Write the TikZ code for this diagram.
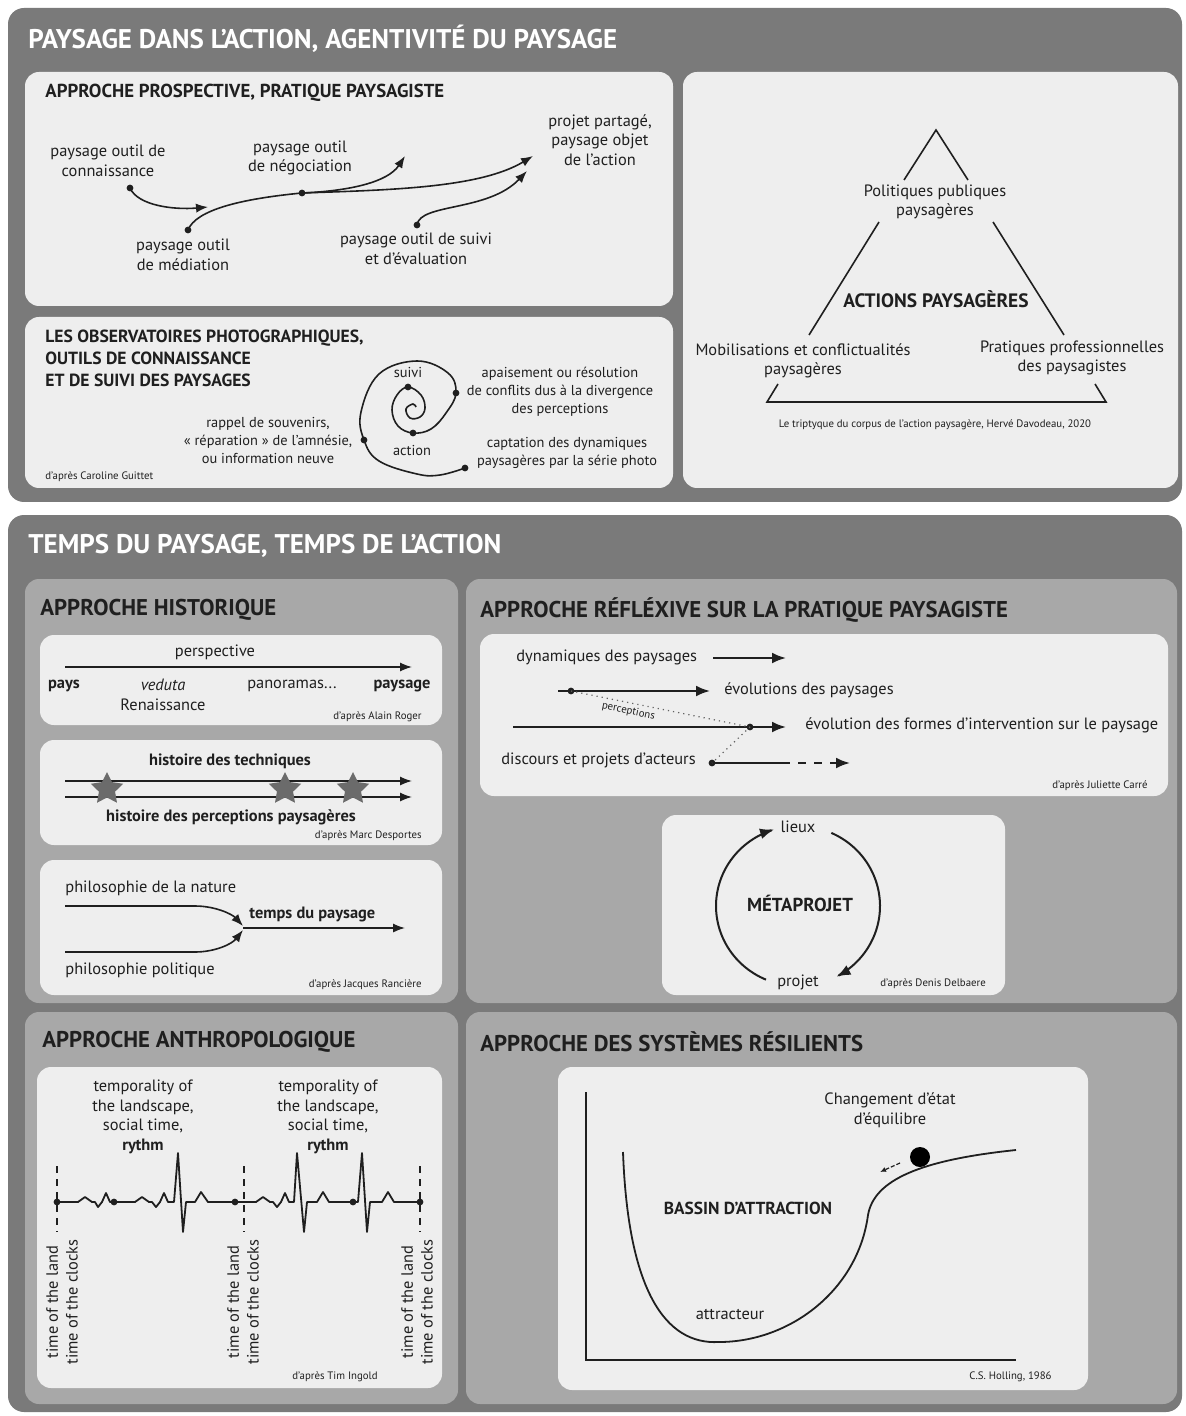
\documentclass[tikz,border=0pt]{standalone}
\usepackage{fontspec}
\setmainfont{PT Sans}
\usetikzlibrary{arrows.meta, positioning, shapes.geometric, calc}

\definecolor{bandgray}{gray}{0.48}
\definecolor{boxgray}{gray}{0.66}
\definecolor{papergray}{gray}{0.935}
\definecolor{ink}{gray}{0.12}
\definecolor{stargray}{gray}{0.42}

\newcommand{\lblfont}{\fontsize{8.2}{9.8}\selectfont}

\begin{document}
\begin{tikzpicture}[
    x=0.5pt, y=-0.5pt,
    band/.style={fill=bandgray, rounded corners=8pt},
    subband/.style={fill=boxgray, rounded corners=7pt},
    card/.style={fill=papergray, rounded corners=7pt},
    bandtitle/.style={text=white, font=\fontsize{13.5}{15}\selectfont\bfseries, anchor=west, inner sep=0pt},
    cardtitle/.style={text=ink, font=\fontsize{8.8}{11}\selectfont\bfseries, anchor=west, inner sep=0pt, align=left},
    subtitle/.style={text=ink, font=\fontsize{11.4}{13}\selectfont\bfseries, anchor=west, inner sep=0pt},
    boldlbl/.style={text=ink, font=\fontsize{9.4}{11}\selectfont\bfseries, inner sep=0pt},
    lbl/.style={text=ink, font=\lblfont, align=center, inner sep=0pt},
    smalltxt/.style={text=ink, font=\fontsize{7.2}{9}\selectfont, align=center, inner sep=0pt},
    credit/.style={text=ink, font=\fontsize{5.4}{6.5}\selectfont, inner sep=0pt},
    arrow/.style={-{Latex[length=6pt,width=4.6pt]}, line width=0.8pt, draw=ink},
    thickarrow/.style={-{Latex[length=7pt,width=5.4pt]}, line width=1pt, draw=ink},
    bareline/.style={line width=0.8pt, draw=ink},
    dot/.style={circle, fill=ink, inner sep=0pt, minimum size=3.4pt},
    starmark/.style={star, star points=5, star point ratio=2.0, fill=stargray, inner sep=0pt, minimum size=17pt},
    tickline/.style={line width=0.7pt, draw=ink, dash pattern=on 3.5pt off 3pt},
]

\useasboundingbox (0,0) rectangle (1186,1416);
\fill[white] (0,0) rectangle (1186,1416);

% ============================================================
% Band 1: paysage dans l'action
% ============================================================

\fill[band] (8,8) rectangle (1182,502);
\node[bandtitle] (bandA) at (28,39) {PAYSAGE DANS L’ACTION, AGENTIVITÉ DU PAYSAGE};

% --- approche prospective
\fill[card] (25,72) rectangle (673,306);
\node[cardtitle, font=\fontsize{9.4}{11}\selectfont\bfseries] (prosTitle) at (45,93) {APPROCHE PROSPECTIVE, PRATIQUE PAYSAGISTE};

\node[lbl] (connLbl) at (108,161) {paysage outil de\\connaissance};
\node[lbl] (negoLbl) at (300,158) {paysage outil\\de négociation};
\node[lbl] (projLbl) at (600,140) {projet partagé,\\paysage objet\\de l’action};
\node[lbl] (mediLbl) at (183,255) {paysage outil\\de médiation};
\node[lbl] (suivLbl) at (416,249) {paysage outil de suivi\\et d’évaluation};

\node[dot] (dConn) at (130,188) {};
\node[dot] (dMedi) at (188,230) {};
\node[dot] (dNego) at (302,193) {};
\node[dot] (dSuiv) at (417,225) {};
\coordinate (tipConn) at (208,207);
\coordinate (tipNego) at (405,156);
\coordinate (tipProj) at (533,156);
\coordinate (tipSuiv) at (527,171);

\draw[arrow]    (dConn.center) .. controls (138,206) and (175,210) .. (tipConn);
\draw[bareline] (dMedi.center) .. controls (196,210) and (240,199) .. (dNego.center);
\draw[arrow]    (dNego.center) .. controls (350,191) and (388,182) .. (tipNego);
\draw[arrow]    (dNego.center) .. controls (390,190) and (480,188) .. (tipProj);
\draw[arrow]    (dSuiv.center) .. controls (420,203) and (488,212) .. (tipSuiv);

% --- observatoires photographiques
\fill[card] (25,317) rectangle (673,488);
\node[cardtitle] (obsTitle) at (45,358) {LES OBSERVATOIRES PHOTOGRAPHIQUES,\\OUTILS DE CONNAISSANCE\\ET DE SUIVI DES PAYSAGES};
\node[credit, anchor=west] (obsCredit) at (45,477) {d’après Caroline Guittet};

\draw[bareline] plot[smooth, tension=0.65] coordinates {
    (416,407) (413,404) (406,409) (410,418) (420,417) (425,408) (421,395)
    (408,387) (397,395) (392,410) (398,426) (413,433) (431,429) (446,413)
    (456,393) (448,373) (417,361) (379,374) (361,412) (364,440) (379,461)
    (417,474) (440,475) (465,468)};
\node[dot] (sp1) at (408,387) {};
\node[dot] (sp2) at (413,433) {};
\node[dot] (sp3) at (456,393) {};
\node[dot] (sp4) at (364,440) {};
\node[dot] (sp5) at (465,468) {};

\node[smalltxt] (suiviLbl)  at (408,372) {suivi};
\node[smalltxt] (actionLbl) at (412,450) {action};
\node[smalltxt] (apaisLbl)  at (560,392) {apaisement ou résolution\\de conflits dus à la divergence\\des perceptions};
\node[smalltxt] (rappelLbl) at (268,440) {rappel de souvenirs,\\« réparation » de l’amnésie,\\ou information neuve};
\node[smalltxt] (captLbl)   at (567,453) {captation des dynamiques\\paysagères par la série photo};

% --- triptyque
\fill[card] (683,72) rectangle (1178,488);
\node[lbl] (polLbl) at (935,202) {Politiques publiques\\paysagères};
\node[boldlbl, font=\fontsize{9.7}{11}\selectfont\bfseries] (actLbl) at (936,299) {ACTIONS PAYSAGÈRES};
\node[lbl] (mobLbl) at (803,361) {Mobilisations et conflictualités\\paysagères};
\node[lbl] (praLbl) at (1072,358) {Pratiques professionnelles\\des paysagistes};
\node[credit] (triCredit) at (935,425) {Le triptyque du corpus de l’action paysagère, Hervé Davodeau, 2020};

\coordinate (apex) at (936,130);
\coordinate (apexL) at (904,180);
\coordinate (apexR) at (968,180);
\coordinate (sideLu) at (879,222);
\coordinate (sideLd) at (809,335);
\coordinate (sideRu) at (993,222);
\coordinate (sideRd) at (1064,335);
\coordinate (baseLu) at (778,384);
\coordinate (baseL) at (767,402);
\coordinate (baseRu) at (1095,384);
\coordinate (baseR) at (1106,402);

\draw[bareline] (apexL) -- (apex) -- (apexR);
\draw[bareline] (sideLu) -- (sideLd);
\draw[bareline] (sideRu) -- (sideRd);
\draw[bareline] (baseLu) -- (baseL) -- (baseR) -- (baseRu);

% ============================================================
% Band 2: temps du paysage
% ============================================================

\fill[band] (8,515) rectangle (1182,1412);
\node[bandtitle] (bandB) at (28,546) {TEMPS DU PAYSAGE, TEMPS DE L’ACTION};

\fill[subband] (25,579) rectangle (458,1003);
\fill[subband] (466,579) rectangle (1177,1003);
\fill[subband] (25,1012) rectangle (458,1404);
\fill[subband] (466,1012) rectangle (1177,1404);

\node[subtitle] (histTitle) at (40,610)  {APPROCHE HISTORIQUE};
\node[subtitle] (reflTitle) at (480,610) {APPROCHE RÉFLÉXIVE SUR LA PRATIQUE PAYSAGISTE};
\node[subtitle] (anthTitle) at (42,1042) {APPROCHE ANTHROPOLOGIQUE};
\node[subtitle] (resiTitle) at (480,1042) {APPROCHE DES SYSTÈMES RÉSILIENTS};

% --- historique 1
\fill[card] (40,635) rectangle (442,725);
\node[lbl] (perspLbl) at (215,652) {perspective};
\coordinate (perspA) at (65,667);
\coordinate (perspB) at (412,667);
\draw[arrow] (perspA) -- (perspB);
\node[lbl, font=\lblfont\bfseries] (paysLbl) at (64,686) {pays};
\node[lbl] (vedLbl) at (163,695) {\textit{veduta}\\Renaissance};
\node[lbl] (panoLbl) at (292,686) {panoramas...};
\node[lbl, font=\lblfont\bfseries] (paysageLbl) at (402,686) {paysage};
\node[credit, anchor=east] (rogerCredit) at (422,717) {d’après Alain Roger};

% --- historique 2
\fill[card] (40,740) rectangle (442,845);
\node[lbl, font=\lblfont\bfseries] (techLbl) at (230,761) {histoire des techniques};
\coordinate (techA) at (65,781);
\coordinate (techB) at (412,781);
\coordinate (percA) at (65,797);
\coordinate (percB) at (412,797);
\draw[arrow] (techA) -- (techB);
\draw[arrow] (percA) -- (percB);
\foreach \sx [count=\k] in {107,285,353}
    \node[starmark] (star\k) at (\sx,789) {};
\node[lbl, font=\lblfont\bfseries] (percLbl) at (231,817) {histoire des perceptions paysagères};
\node[credit, anchor=east] (despCredit) at (422,836) {d’après Marc Desportes};

% --- historique 3
\fill[card] (40,860) rectangle (442,995);
\node[lbl, anchor=west] (natLbl) at (65,888) {philosophie de la nature};
\node[lbl, anchor=west] (polLbl2) at (65,970) {philosophie politique};
\coordinate (natA) at (65,906);
\coordinate (polA) at (65,952);
\coordinate (merge) at (243,928);
\coordinate (tempsB) at (405,928);
\draw[arrow] (natA) -- (195,906) .. controls (215,906) and (232,914) .. ([yshift=1pt]merge);
\draw[arrow] (polA) -- (195,952) .. controls (215,952) and (232,944) .. ([yshift=-1pt]merge);
\draw[arrow] (merge) -- (tempsB);
\node[lbl, anchor=west, font=\lblfont\bfseries] (tempsLbl) at (249,914) {temps du paysage};
\node[credit, anchor=east] (ranCredit) at (422,985) {d’après Jacques Rancière};

% --- reflexive 1
\fill[card] (480,634) rectangle (1168,796);
\node[lbl, anchor=west] (dynLbl) at (516,657) {dynamiques des paysages};
\coordinate (dynA) at (713,658);
\coordinate (dynB) at (786,658);
\draw[thickarrow] (dynA) -- (dynB);

\coordinate (evoA) at (558,691);
\node[dot] (dEvo) at (571,691) {};
\coordinate (evoB) at (710,691);
\draw[thickarrow] (evoA) -- (evoB);
\node[lbl, anchor=west] (evoLbl) at (724,690) {évolutions des paysages};

\coordinate (formA) at (513,727);
\node[dot] (dForm) at (750,727) {};
\coordinate (formB) at (786,727);
\draw[thickarrow] (formA) -- (formB);
\node[lbl, anchor=west] (formLbl) at (805,725) {évolution des formes d’intervention sur le paysage};

\node[lbl, anchor=west] (discLbl) at (501,760) {discours et projets d’acteurs};
\node[dot] (dDisc) at (712,763) {};
\coordinate (discM) at (782,763);
\coordinate (discB) at (850,763);
\draw[line width=1pt, draw=ink] (dDisc.center) -- (discM);
\draw[thickarrow, dash pattern=on 4pt off 4pt] (discM) -- (discB);

\draw[ink!70, line width=0.6pt, dotted] (dEvo.center) -- node[credit, sloped, below=1.5pt, pos=0.33] {perceptions} (dForm.center);
\draw[ink!70, line width=0.6pt, dotted] (dForm.center) -- (dDisc.center);
\node[credit, anchor=east] (carreCredit) at (1148,786) {d’après Juliette Carré};

% --- metaprojet
\fill[card] (662,815) rectangle (1005,995);
\node[lbl] (lieuxLbl) at (798,827) {lieux};
\node[lbl] (projetLbl) at (798,982) {projet};
\node[boldlbl] (metaLbl) at (800,903) {MÉTAPROJET};
\draw[thickarrow] plot[domain=247:107, samples=60, smooth] ({798+82*cos(\x)}, {906-80*sin(\x)});
\draw[thickarrow] plot[domain=66:-62, samples=60, smooth] ({798+82*cos(\x)}, {906-80*sin(\x)});
\node[credit, anchor=west] (delbCredit) at (880,984) {d’après Denis Delbaere};

% --- anthropologique
\fill[card] (37,1067) rectangle (442,1388);
\node[lbl] (rythA) at (143,1117) {temporality of\\the landscape,\\social time,\\\textbf{rythm}};
\node[lbl] (rythB) at (328,1117) {temporality of\\the landscape,\\social time,\\\textbf{rythm}};

\foreach \tx in {57,244,420}
    \draw[tickline] (\tx,1166) -- (\tx,1232);

\draw[line width=0.9pt, draw=ink, line join=round]
    (57,1202) -- (78,1202) -- (85,1197) -- (92,1202) -- (95,1202) -- (98,1207)
    -- (102,1202) -- (106,1193) -- (110,1202) -- (135,1202) -- (142,1197)
    -- (149,1202) -- (152,1202) -- (156,1207) -- (160,1202) -- (164,1193)
    -- (168,1202) -- (174,1202) -- (178,1153) -- (183,1232) -- (186,1202)
    -- (195,1202) -- (201,1192) -- (208,1202) -- (256,1202) -- (263,1197)
    -- (270,1202) -- (273,1202) -- (277,1207) -- (281,1202) -- (285,1193)
    -- (289,1202) -- (294,1202) -- (297,1153) -- (304,1232) -- (307,1202)
    -- (317,1202) -- (323,1192) -- (329,1202) -- (358,1202) -- (362,1153)
    -- (367,1232) -- (370,1202) -- (382,1202) -- (388,1192) -- (394,1202)
    -- (420,1202);
\foreach \bx [count=\k] in {57,114,235,353,420}
    \node[dot] (beat\k) at (\bx,1202) {};

\node[lbl, rotate=90] (clockA) at (62,1302)  {time of the land\\time of the clocks};
\node[lbl, rotate=90] (clockB) at (243,1302) {time of the land\\time of the clocks};
\node[lbl, rotate=90] (clockC) at (417,1302) {time of the land\\time of the clocks};
\node[credit, anchor=east] (ingCredit) at (378,1377) {d’après Tim Ingold};

% --- systemes resilients
\fill[card] (558,1067) rectangle (1088,1390);
\coordinate (axTop) at (586,1092);
\coordinate (axO) at (586,1360);
\coordinate (axEnd) at (1016,1360);
\draw[line width=1.2pt, draw=ink] (axTop) -- (axO) -- (axEnd);

\draw[line width=0.9pt, draw=ink] (623,1152) .. controls (628,1290) and (665,1345) .. (719,1342)
    .. controls (790,1342) and (858,1290) .. (868,1215)
    .. controls (874,1180) and (920,1160) .. (1016,1150);
\node[circle, fill=black, inner sep=0pt, minimum size=10pt] (ball) at (920,1157) {};
\coordinate (rollA) at (900,1163);
\coordinate (rollB) at (880,1172);
\draw[-{Latex[length=3pt,width=2.6pt]}, line width=0.6pt, draw=ink, dash pattern=on 2pt off 1pt] (rollA) -- (rollB);

\node[lbl] (chgLbl) at (890,1110) {Changement d’état\\d’équilibre};
\node[boldlbl, font=\fontsize{8.7}{10}\selectfont\bfseries] (bassinLbl) at (748,1208) {BASSIN D’ATTRACTION};
\node[lbl] (attrLbl) at (730,1314) {attracteur};
\node[credit, anchor=east] (hollCredit) at (1052,1377) {C.S. Holling, 1986};

\end{tikzpicture}
\end{document}
